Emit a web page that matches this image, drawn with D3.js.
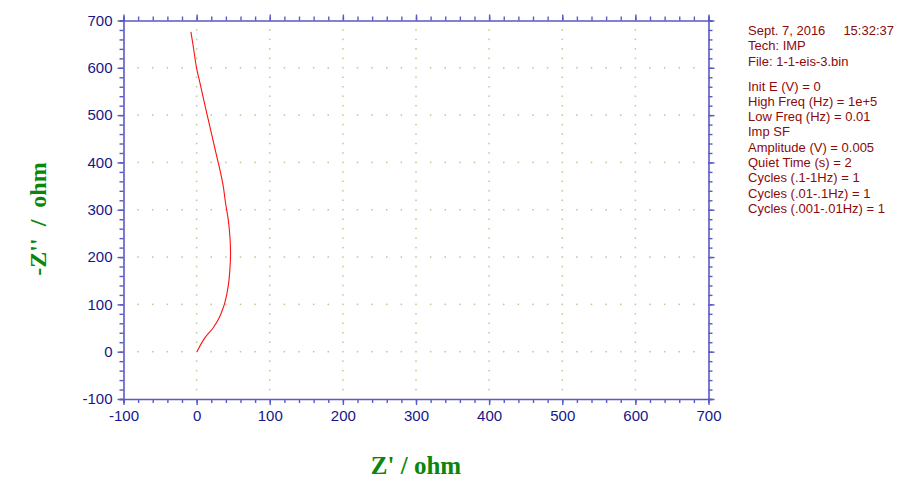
<!DOCTYPE html>
<html>
<head>
<meta charset="utf-8">
<script src="https://cdn.jsdelivr.net/npm/d3@7"></script>
<style>
	body { margin: 0; background: #ffffff; }
	svg { display: block; }
</style>
</head>
<body>
<svg id="chart" width="900" height="486"></svg>
<script>

// Nyquist data (Z' and -Z'' in ohm)
var aZReal = [0.5, 11.4, 22.7, 30.9, 36.4, 38.6, 43.2, 45.5, 46.4, 45.5, 43.2, 39.5, 36.4, 31.8, 26.4, 21.2, 16, 11.5, 3.7, 0, -4.6, -7.8];
var aZImag = [0, 29.6, 50.7, 71.8, 93, 103.5, 138.7, 173.9, 209, 244, 279.6, 314.8, 350, 385, 420, 455, 490, 520, 574, 599, 645, 676];

var aTicksX = [-100, 0, 100, 200, 300, 400, 500, 600, 700];
var aTicksY = [-100, 0, 100, 200, 300, 400, 500, 600, 700];

var aInfoTop = ['Sept. 7, 2016', 'Tech: IMP', 'File: 1-1-eis-3.bin'];
var strInfoTime = '15:32:37';
var aInfoParams = [
	'Init E (V) = 0',
	'High Freq (Hz) = 1e+5',
	'Low Freq (Hz) = 0.01',
	'Imp SF',
	'Amplitude (V) = 0.005',
	'Quiet Time (s) = 2',
	'Cycles (.1-1Hz) = 1',
	'Cycles (.01-.1Hz) = 1',
	'Cycles (.001-.01Hz) = 1'
];

var sSvg = d3.select('#chart');

const strAxisColor = '#5a5ac4';
const strLabelColor = '#16168a';
const strTitleColor = '#0a870a';
const strInfoColor = '#8b0a0a';

var nLeft = 123.5;
var nRight = 708.5;
var nTop = 20.5;
var nBottom = 399;

var scaleX = d3.scaleLinear()
	.domain([-100, 700])
	.range([nLeft, nRight]);

var scaleY = d3.scaleLinear()
	.domain([-100, 700])
	.range([nBottom, nTop]);

// minor positions every 20 ohm
var aMinor = d3.range(-100, 701, 20);

// dotted grid: dots on the interior major lines at every minor step
var sGrid = sSvg.append('g');
aTicksX.slice(1, -1).forEach(function(fX)
{
	aMinor.slice(1, -1).forEach(function(fY)
	{
		sGrid.append('rect')
			.attr('x', scaleX(fX) - 0.75)
			.attr('y', scaleY(fY) - 0.75)
			.attr('width', 1.5)
			.attr('height', 1.5)
			.attr('fill', '#b4cc8c');
	});
});
aTicksY.slice(1, -1).forEach(function(fY)
{
	aMinor.slice(1, -1).forEach(function(fX)
	{
		if (aTicksX.indexOf(fX) >= 0) return;
		sGrid.append('rect')
			.attr('x', scaleX(fX) - 0.75)
			.attr('y', scaleY(fY) - 0.75)
			.attr('width', 1.5)
			.attr('height', 1.5)
			.attr('fill', '#b4cc8c');
	});
});

// axes on four sides, major + minor ticks outward
function DrawAxis(axisMaker, scale, aMajor, strTransform, bLabels)
{
	var axisMinor = axisMaker(scale)
		.tickValues(aMinor)
		.tickSize(4)
		.tickFormat('');
	var axisMajor = axisMaker(scale)
		.tickValues(aMajor)
		.tickSize(6)
		.tickPadding(5)
		.tickFormat(function(f) { return bLabels ? String(f) : ''; });

	var sMinor = sSvg.append('g')
		.attr('transform', strTransform)
		.call(axisMinor);
	var sMajor = sSvg.append('g')
		.attr('transform', strTransform)
		.call(axisMajor);

	[sMinor, sMajor].forEach(function(sAxis)
	{
		sAxis.selectAll('path.domain')
			.attr('stroke', strAxisColor)
			.attr('stroke-width', 1.6);
		sAxis.selectAll('.tick line')
			.attr('stroke', strAxisColor)
			.attr('stroke-width', 1.4);
		sAxis.selectAll('.tick text')
			.attr('fill', strLabelColor)
			.style('font-family', 'Liberation Sans, Arial, sans-serif')
			.style('font-size', '15px');
	});
	sMajor.selectAll('path.domain').remove();
	return sMajor;
}

DrawAxis(d3.axisBottom, scaleX, aTicksX, 'translate(0,' + nBottom + ')', true);
DrawAxis(d3.axisTop, scaleX, aTicksX, 'translate(0,' + nTop + ')', false);
DrawAxis(d3.axisLeft, scaleY, aTicksY, 'translate(' + nLeft + ',0)', true);
DrawAxis(d3.axisRight, scaleY, aTicksY, 'translate(' + nRight + ',0)', false);

// curve
var lineNyquist = d3.line()
	.x(function(d) { return scaleX(d[0]); })
	.y(function(d) { return scaleY(d[1]); })
	.curve(d3.curveCatmullRom);

sSvg.append('path')
	.datum(aZReal.map(function(fX, i) { return [fX, aZImag[i]]; }))
	.attr('d', lineNyquist)
	.attr('fill', 'none')
	.attr('stroke', '#ff1010')
	.attr('stroke-width', 1.1);

// axis titles
sSvg.append('text')
	.attr('x', 416)
	.attr('y', 474)
	.attr('text-anchor', 'middle')
	.attr('fill', strTitleColor)
	.style('font-family', 'Liberation Serif, Times New Roman, serif')
	.style('font-weight', 'bold')
	.style('font-size', '25px')
	.text("Z' / ohm");

sSvg.append('text')
	.attr('transform', 'translate(46,219) rotate(-90)')
	.attr('text-anchor', 'middle')
	.attr('fill', strTitleColor)
	.style('font-family', 'Liberation Serif, Times New Roman, serif')
	.style('font-weight', 'bold')
	.style('font-size', '24px')
	.style('white-space', 'pre')
	.text("-Z''  /  ohm");

// info block
var sInfo = sSvg.append('g')
	.attr('fill', strInfoColor)
	.style('font-family', 'Liberation Sans, Arial, sans-serif')
	.style('font-size', '13px');

aInfoTop.forEach(function(strLine, i)
{
	sInfo.append('text')
		.attr('x', 748)
		.attr('y', 35 + i * 15.3)
		.text(strLine);
});
sInfo.append('text')
	.attr('x', 894)
	.attr('y', 35)
	.attr('text-anchor', 'end')
	.text(strInfoTime);

aInfoParams.forEach(function(strLine, i)
{
	sInfo.append('text')
		.attr('x', 748)
		.attr('y', 90.5 + i * 15.3)
		.text(strLine);
});

</script>
</body>
</html>
